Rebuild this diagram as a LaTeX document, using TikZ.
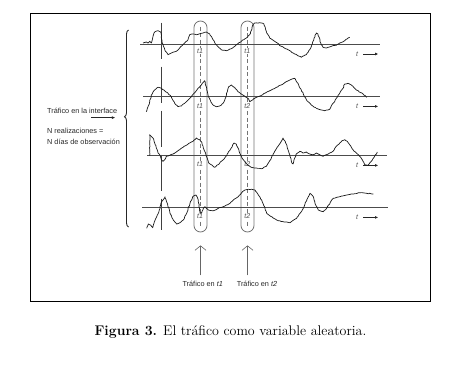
\documentclass[tikz,border=0pt]{standalone}
\usepackage{fontspec}
\newfontfamily\labelfont{Liberation Sans}
\usetikzlibrary{arrows.meta,positioning,decorations.pathreplacing,decorations.pathmorphing}

\begin{document}
\pgfmathsetseed{11}
\begin{tikzpicture}[
  x=1pt, y=-1pt,
  lbl/.style={font=\labelfont\fontsize{7.3}{8}\selectfont, text=black!85, inner sep=0pt},
  tlbl/.style={font=\labelfont\itshape\fontsize{7}{8}\selectfont, text=black!70, fill=white, inner sep=0.5pt},
  capsule/.style={draw=black!55, line width=0.8pt, rounded corners=6.5pt, minimum width=13pt, minimum height=211pt, inner sep=0pt},
  midline/.style={draw=black!55, line width=0.5pt, dash pattern=on 4pt off 2.5pt, shorten <=6pt, shorten >=6pt},
  axis/.style={draw=black!70, line width=0.8pt},
  wave/.style={draw=black!90, line width=0.7pt, line join=round, decorate, decoration={random steps, segment length=1.6pt, amplitude=0.35pt}},
  tarrow/.style={-{Latex[length=3pt, width=2.8pt]}, line width=0.8pt, draw=black!85},
  fatarrow/.style={-{Latex[length=3.5pt, width=3pt]}, line width=1.1pt, draw=black!85},
  uparrow/.style={-{Straight Barb[length=4.5pt, width=11pt]}, line width=0.6pt, draw=black!60},
  brace/.style={decorate, decoration={brace, amplitude=4pt, aspect=0.56}, line width=0.9pt, draw=black!85},
  node distance=8mm
]
\useasboundingbox (0,0) rectangle (457,367);
\draw[line width=0.8pt] (30,13.3) rectangle (430.7,301.7);

\node[lbl, anchor=west] (iface) at (47,110.7) {Tráfico en la interface};
\draw[fatarrow] ([shift={(-26pt,-4pt)}]iface.south east) -- ([shift={(-2pt,-4pt)}]iface.south east);
\node[lbl, below=20pt of iface.west, anchor=west] (nreal) {N realizaciones =};
\node[lbl, below=11.5pt of nreal.west, anchor=west] (ndias) {N días de observación};
\draw[brace] (128.5,227) -- (128.5,30);

\draw[draw=black!75, line width=0.6pt, dash pattern=on 36pt off 8pt] (161,22.7) -- (161,230);

\node[capsule] (cap1) at (200.5,126.5) {};
\node[capsule] (cap2) at (247.5,126.5) {};
\draw[midline] (cap1.north) -- (cap1.south);
\draw[midline] (cap2.north) -- (cap2.south);

\foreach \y/\tb [count=\i] in {50.7/1, 106/2, 164.3/2, 216/2} {
  \node[tlbl] (a\i) at (200,\y) {t1};
  \node[tlbl] (b\i) at (247.3,\y) {t\tb};
}

\foreach \y/\xa/\xb [count=\i] in {44.3/140/380, 96.7/143/380, 155.7/147/387, 207.7/142/388} {
  \draw[axis] (\xa,\y) -- (\xb,\y);
  \node[tlbl, fill=none] (t\i) at (357,\y+9.7) {t};
  \draw[tarrow] ([xshift=4.5pt]t\i.east) -- ++(15pt,0);
}

\draw[wave] (143,43) -- (146.3,42) -- (148,43) -- (149.7,41.3) -- (151.3,43) -- (153,36.3) -- (154.7,32) -- (158,30.7) -- (160.7,32) -- (162,41.3) -- (164.7,49.7) -- (168,54.7) -- (171.3,53) -- (176.3,51.3) -- (179.7,48) -- (184.7,43) -- (188,39.7) -- (189.7,34.7) -- (193,34) -- (196.3,34.7) -- (199.7,33.7) -- (203,33) -- (206.3,32) -- (209.7,34) -- (213,39.7) -- (216.3,44.7) -- (221.3,49.7) -- (226.3,50.7) -- (231.3,48.7) -- (236.3,44.7) -- (241.3,41.3) -- (246.3,38) -- (249.7,34.7) -- (253,24.7) -- (254.7,23) -- (261.3,23) -- (264,24) -- (266.3,31.3) -- (269.7,38) -- (274.7,41.3) -- (281.3,46.3) -- (288,49.7) -- (294.7,54) -- (301.3,57.3) -- (306.3,54.7) -- (309.7,49.7) -- (313,41.3) -- (316.3,33) -- (318,34) -- (320.7,43) -- (323,47.3) -- (326.3,48) -- (331.3,46.3) -- (336.3,45.3) -- (339.7,43) -- (344.7,40.7) -- (349.7,37.3);

\draw[wave] (146.3,111.7) -- (148,106.7) -- (149.7,101.7) -- (151.3,95) -- (154.7,90) -- (158,87.3) -- (161.3,88.3) -- (164.7,90.7) -- (168,93.3) -- (171.3,96.7) -- (174.7,103.3) -- (178,106.7) -- (181.3,106) -- (184.7,103.3) -- (188,100) -- (191.3,96.7) -- (194.7,92.7) -- (198,88.3) -- (201.3,85) -- (203,82.7) -- (204.7,80.7) -- (206.3,86.7) -- (208,95) -- (210.7,101.7) -- (213,105) -- (216.3,106.7) -- (219.7,106) -- (223,103.3) -- (225.3,98.3) -- (227.3,91.7) -- (228.7,86.7) -- (231.3,85) -- (234.7,87.3) -- (238,91.7) -- (241.3,94) -- (244.7,96) -- (248,98.3) -- (249.7,101.7) -- (251.3,100.7) -- (254.7,98.3) -- (258,96.7) -- (264.7,93.3) -- (271.3,90) -- (278,86.7) -- (284.7,82.7) -- (291.3,79.3) -- (294.7,78.3) -- (298,83.3) -- (301.3,90) -- (304.7,96.7) -- (308,101.7) -- (311.3,105) -- (316.3,108.3) -- (321.3,110) -- (324.7,110.7) -- (329.7,109.3) -- (331.3,106) -- (333,103.3) -- (334.7,101.7) -- (336.3,98.3) -- (339.7,93.3) -- (343,88.3) -- (344.7,84) -- (348,83.3) -- (351.3,85) -- (356.3,90) -- (361.3,92.7) -- (366.7,97.3);

\draw[wave] (149.7,155.7) -- (149.7,134.7) -- (151.3,136.3) -- (153,138) -- (154.7,143) -- (156.3,148) -- (158,153) -- (159.7,154.7) -- (161.3,159.7) -- (163,161.3) -- (164.7,159.7) -- (166.3,156.3) -- (169.7,155.3) -- (173,154) -- (176.3,152) -- (179.7,149.7) -- (183,147.3) -- (186.3,145.3) -- (189.7,143) -- (193,141.3) -- (196.3,138) -- (199.7,139.7) -- (202,143) -- (204,149.7) -- (206.3,156.3) -- (208.7,163) -- (211.3,164.7) -- (214.7,167.3) -- (218,164.7) -- (221.3,161.3) -- (224.7,158) -- (228,153) -- (231.3,148) -- (234,143) -- (236.3,144) -- (238,148) -- (239.7,153) -- (242,158) -- (244.7,161.3) -- (248,165.3) -- (251.3,167.3) -- (256.3,168) -- (261.3,168.7) -- (266.3,166.3) -- (271.3,158) -- (274.7,151.3) -- (278,146.3) -- (281.3,141.3) -- (283,138) -- (285.3,141.3) -- (287.3,148) -- (289.7,154.7) -- (291.3,161.3) -- (293,164) -- (294.7,158) -- (296.3,154) -- (299.7,151.3) -- (303,153) -- (306.3,152) -- (309.7,154) -- (313,154.7) -- (316.3,153) -- (319.7,154.7) -- (323,156.3) -- (326.3,154.7) -- (329.7,153) -- (333,151.3) -- (336.3,146.3) -- (339.7,143) -- (342,140.7) -- (344.7,139.7) -- (347.3,141.3) -- (349.7,144.7) -- (353,149.7) -- (356.3,153) -- (359.7,156.3) -- (363,161.3) -- (364.7,164.7) -- (368,165.3) -- (371.3,161.3) -- (374.7,156.3) -- (377.3,152);

\draw[wave] (146.7,228.3) -- (148.3,224) -- (150.7,225) -- (152.7,227.7) -- (154,223.3) -- (156.7,216.7) -- (159.3,210) -- (161.7,201.7) -- (165,196.7) -- (167.3,203.3) -- (170,213.3) -- (173.3,220) -- (176.7,224) -- (180,222.7) -- (183.3,220) -- (186.7,213.3) -- (190,203.3) -- (192.7,196.7) -- (196,195) -- (198.3,200) -- (200,213.3) -- (201.7,212.7) -- (203.3,208.3) -- (205,206.7) -- (208.3,210) -- (213.3,210.7) -- (218.3,208.3) -- (223.3,206.7) -- (230,203.3) -- (233.3,200) -- (238.3,196.7) -- (241.7,192.7) -- (245,190) -- (248.3,189.3) -- (251.7,189.3) -- (255,190) -- (258.3,195) -- (261.7,200) -- (265,208.3) -- (266.7,213.3) -- (271.7,216.7) -- (276.7,220) -- (283.3,221.7) -- (290,222.7) -- (296.7,218.3) -- (300,213.3) -- (303.3,208.3) -- (306.7,200) -- (310,193.3) -- (313.3,196.7) -- (315,203.3) -- (318.3,210) -- (323.3,211.7) -- (326.7,208.3) -- (330,203.3) -- (331.7,200) -- (333.3,198.3) -- (340,196.7) -- (346.7,195) -- (353.3,194) -- (360,192.7) -- (366.7,193.3) -- (373.3,194);

\node[lbl] (traf1) at (202.7,284.3) {Tráfico en {\itshape t1}};
\node[lbl] (traf2) at (257,284.3) {Tráfico en {\itshape t2}};
\draw[uparrow] ([yshift=6pt]traf1.north -| cap1.south) -- ([yshift=-13pt]cap1.south);
\draw[uparrow] ([yshift=6pt]traf2.north -| cap2.south) -- ([yshift=-13pt]cap2.south);

\node[font=\fontsize{14}{16}\selectfont] (caption) at (230.5,331.7) {\textbf{Figura 3.} El tráfico como variable aleatoria.};
\end{tikzpicture}
\end{document}
